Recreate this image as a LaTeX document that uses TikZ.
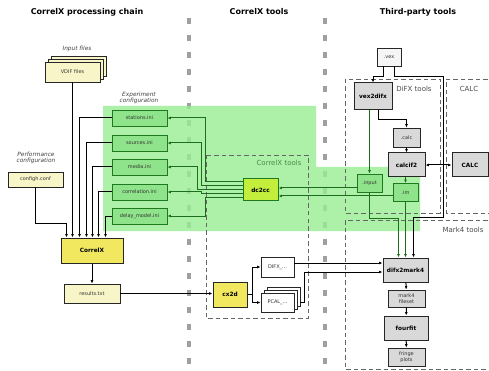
\documentclass[tikz,border=0pt]{standalone}
\usepackage{fontspec}
\setmainfont{DejaVu Sans}
\usetikzlibrary{arrows.meta,positioning,calc,shadows}
\definecolor{zonegreen}{HTML}{98EE92}
\definecolor{cfgfill}{HTML}{8FE38A}
\definecolor{cfgedge}{HTML}{1F7A1F}
\definecolor{linkgreen}{HTML}{1C6E1C}
\definecolor{convfill}{HTML}{C4EE3C}
\definecolor{corefill}{HTML}{F2E860}
\definecolor{filefill}{HTML}{F8F6C8}
\definecolor{grayfill}{HTML}{D9D9D9}

\begin{document}
\begin{tikzpicture}[x=1pt,y=-1pt,>={Latex[length=3.4pt,width=2.8pt]}]
  \tikzset{
    anybox/.style={draw=black!85, line width=0.8pt, inner sep=0pt, text=black!80,
      font=\fontsize{5}{5.8}\selectfont, align=center},
    filebox/.style={anybox, fill=filefill},
    cfgbox/.style={anybox, draw=cfgedge, fill=cfgfill, minimum width=55pt, minimum height=16pt},
    corebox/.style={anybox, line width=1pt, text=black, font=\fontsize{5.8}{6.5}\selectfont\bfseries},
    thirdbox/.style={anybox, fill=grayfill},
    stacked/.style={double copy shadow={shadow xshift=3pt,shadow yshift=3pt}},
    flow/.style={->, line width=1pt},
    gflow/.style={flow, draw=linkgreen},
    zone/.style={draw=black!60, dash pattern=on 4.5pt off 3pt, line width=0.7pt},
    divider/.style={draw=gray!75, line width=4.5pt, dash pattern=on 6pt off 11pt},
    heading/.style={font=\fontsize{8}{9}\selectfont\bfseries},
    note/.style={font=\fontsize{5.8}{6.8}\selectfont\itshape, text=black!75, align=center},
    zonelabel/.style={font=\fontsize{7}{8}\selectfont, text=black!70}
  }
  \fill[white] (0,0) rectangle (489,371);
  \useasboundingbox (0,0) rectangle (489,371);

  % column titles
  \node[heading] (tchain) at (87,12) {CorrelX processing chain};
  \node[heading] (ttools) at (259,12) {CorrelX tools};
  \node[heading] (tthird) at (418,12) {Third-party tools};

  % column dividers
  \draw[divider] (189,18) -- (189,371);
  \draw[divider] (325,18) -- (325,371);

  % experiment configuration zone
  \fill[zonegreen, opacity=0.8] (103,106) -- (316,106) -- (316,167) -- (420,167)
    -- (420,231) -- (103,231) -- cycle;

  % tool groups
  \draw[zone] (206,155) rectangle (308,318);
  \node[zonelabel, text=linkgreen!80] (lcx) at (279,163) {CorrelX tools};
  \draw[zone] (345,79) rectangle (440,213);
  \node[zonelabel] (ldifx) at (414,89) {DiFX tools};
  \draw[zone] (495,79) -- (446,79) -- (446,213) -- (495,213);
  \node[zonelabel] (lcalc) at (469,89) {CALC};
  \draw[zone] (495,220) -- (345,220) -- (345,369) -- (495,369);
  \node[zonelabel] (lmark) at (463,230) {Mark4 tools};

  % processing chain
  \node[note] (linput) at (77,49) {Input files};
  \node[filebox, stacked, minimum width=55pt, minimum height=20pt] (vdif) at (72.5,72) {VDIF files};
  \node[note] (lexp) at (139,98) {Experiment\\configuration};
  \node[cfgbox] (stations) at (139.5,118) {stations.ini};
  \node[cfgbox] (sources) at (139.5,143) {sources.ini};
  \node[cfgbox] (media) at (139.5,167) {media.ini};
  \node[cfgbox] (correlation) at (139.5,192) {correlation.ini};
  \node[cfgbox] (delay) at (139.5,216) {delay\_model.ini};
  \node[note] (lperf) at (36,158) {Performance\\configuration};
  \node[filebox, minimum width=55pt, minimum height=15pt] (configh) at (35.5,179.5) {configh.conf};
  \node[corebox, fill=corefill, minimum width=62pt, minimum height=25pt] (correlx) at (92,250.5) {CorrelX};
  \node[filebox, minimum width=56pt, minimum height=19pt] (results) at (92,293.5) {results.txt};

  % correlx tools
  \node[corebox, fill=corefill, minimum width=34pt, minimum height=25pt] (cx2d) at (230,294.5) {cx2d};
  \node[anybox, fill=white, minimum width=33pt, minimum height=20pt] (difx) at (277.5,267) {DIFX\_...};
  \node[anybox, fill=white, stacked, minimum width=33pt, minimum height=19pt] (pcal) at (277.5,302.5) {PCAL\_...};
  \node[corebox, draw=cfgedge, fill=convfill, minimum width=35pt, minimum height=22pt] (dc2cc) at (260.5,190) {dc2cc};

  % third-party tools
  \node[anybox, fill=black!4, minimum width=24pt, minimum height=18pt] (vex) at (389,57) {.vex};
  \node[corebox, fill=grayfill, minimum width=38pt, minimum height=27pt] (vex2difx) at (373,96.5) {vex2difx};
  \node[thirdbox, minimum width=27pt, minimum height=19pt] (calc) at (406.5,137.5) {.calc};
  \node[corebox, fill=grayfill, minimum width=37pt, minimum height=24pt] (calcif2) at (406.5,165) {calcif2};
  \node[corebox, fill=grayfill, minimum width=36pt, minimum height=24pt] (calcsrv) at (470,165) {CALC};
  \node[cfgbox, minimum width=25pt, minimum height=18pt] (input) at (369.5,183) {.input};
  \node[cfgbox, minimum width=25pt, minimum height=18pt] (im) at (405.5,192.5) {.im};
  \node[corebox, fill=grayfill, minimum width=45pt, minimum height=24pt] (difx2mark4) at (405.5,270) {difx2mark4};
  \node[thirdbox, minimum width=37pt, minimum height=17pt] (fileset) at (406.5,298.5) {mark4\\fileset};
  \node[corebox, fill=grayfill, minimum width=44pt, minimum height=24pt] (fourfit) at (406,328) {fourfit};
  \node[thirdbox, minimum width=37pt, minimum height=18pt] (fringe) at (406.5,357) {fringe\\plots};

  % inputs of CorrelX
  \draw[flow, line width=1.8pt] (vdif.south) -- (vdif.south |- correlx.north);
  \draw[flow] (configh.south) -- ++(0,36) -| ([xshift=6pt]correlx.north west);
  \foreach \f/\dx in {stations/19, sources/26, media/32, correlation/38, delay/45}
    \draw[flow] (\f.west) -| ([xshift=\dx pt]correlx.north west);
  \draw[flow] (correlx) -- (results);
  \draw[flow] (results.east) -- (results.east -| cx2d.west);

  % dc2cc writes the configuration
  \draw[gflow] ([yshift=8pt]dc2cc.west) -- ++(-37,0) |- (stations.east);
  \draw[gflow] ([yshift=4pt]dc2cc.west) -- ++(-41,0) |- (sources.east);
  \draw[gflow] (dc2cc.west) -- ++(-45,0) |- (media.east);
  \draw[gflow] ([yshift=-4pt]dc2cc.west) -- ++(-41,0) |- (correlation.east);
  \draw[gflow] ([yshift=-8pt]dc2cc.west) -- ++(-37,0) |- (delay.east);

  % cx2d outputs
  \draw[flow] (cx2d.east) -- ++(5,0) |- (difx.west);
  \draw[flow] (cx2d.east) -- ++(5,0) |- (pcal.west);

  % DiFX side
  \coordinate (vexbend) at (443,217);
  \draw[flow] ([xshift=-6pt]vex.south) -- ++(0,10) -| (vex2difx.north);
  \draw[flow] ([xshift=5pt]vex.south) -- ++(0,10) -| (vexbend) -| ([xshift=8pt]difx2mark4.north);
  \draw[flow] ([xshift=5pt]vex2difx.south) -- ++(0,9) -| (calc.north);
  \draw[gflow] (input.north |- vex2difx.south) -- (input.north);
  \draw[flow] (calc) -- (calcif2);
  \draw[<->, line width=1pt] (calcif2) -- (calcsrv);
  \draw[gflow] (im.north |- calcif2.south) -- (im.north);
  \draw[gflow] ([yshift=-5pt]input.west) coordinate (inpout) -- (inpout -| dc2cc.east);
  \draw[gflow] ([yshift=-3.5pt]im.west) coordinate (imout) -- (imout -| dc2cc.east);
  \draw[gflow] (input.south) -- ++(0,26) -| ([xshift=-7pt]difx2mark4.north);
  \draw[gflow] (im.south) -- (im.south |- difx2mark4.north);

  % Mark4 side
  \draw[flow] ([yshift=4pt]difx.east) coordinate (difxout) -- (difxout -| difx2mark4.west);
  \draw[flow] ([xshift=6pt]pcal.east) -- ++(4,0) |- ([yshift=-2pt]difx2mark4.west);
  \draw[flow] (difx2mark4) -- (fileset);
  \draw[flow] (fileset) -- (fourfit);
  \draw[flow] (fourfit) -- (fringe);
\end{tikzpicture}
\end{document}
